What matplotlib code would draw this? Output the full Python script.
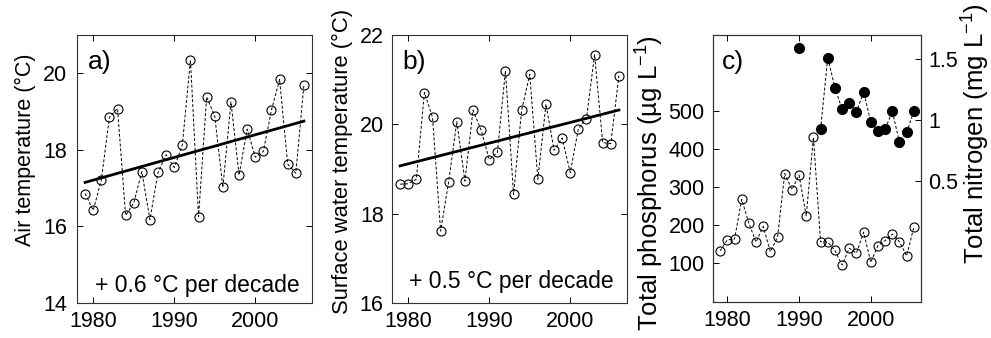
import numpy as np
import matplotlib
matplotlib.use("Agg")
import matplotlib.pyplot as plt

plt.rcParams['font.family'] = ['Liberation Sans', 'DejaVu Sans']
plt.rcParams['mathtext.fontset'] = 'custom'
plt.rcParams['mathtext.rm'] = 'Liberation Sans'
plt.rcParams['mathtext.it'] = 'Liberation Sans:italic'
plt.rcParams['mathtext.default'] = 'regular'

# --- Data ---
years = np.arange(1979, 2007)

air_temp = [16.86, 16.42, 17.21, 18.85, 19.08, 16.29, 16.61, 17.43, 16.18, 17.41,
            17.87, 17.54, 18.13, 20.35, 16.25, 19.38, 18.88, 17.02, 19.25, 17.34,
            18.54, 17.81, 17.96, 19.04, 19.84, 17.63, 17.39, 19.69]
air_trend_years = [1979, 2006]
air_trend = [17.15, 18.75]

water_temp = [18.66, 18.67, 18.77, 20.71, 20.16, 17.61, 18.72, 20.06, 18.73, 20.32,
              19.87, 19.21, 19.37, 21.20, 18.43, 20.32, 21.12, 18.77, 20.45, 19.42,
              19.69, 18.92, 19.90, 20.13, 21.56, 19.59, 19.57, 21.09]
water_trend_years = [1979, 2006]
water_trend = [19.07, 20.32]

phosphorus = [133, 162, 164, 268, 206, 156, 197, 131, 169, 336,
              294, 332, 225, 431, 157, 156, 134, 96, 140, 127,
              182, 103, 147, 160, 177, 157, 120, 195]

nitrogen = [np.nan] * 11 + [1.59, np.nan, np.nan, 0.926, 1.515, 1.265, 1.09, 1.142,
                            1.068, 1.233, 0.986, 0.91, 0.926, 1.074, 0.817, 0.899, 1.074]

W, H = 991, 338
fig = plt.figure(figsize=(W / 100, H / 100), dpi=100)

fs = 15.5
dash = dict(color='black', linestyle=(0, (3, 2)), linewidth=0.7)


def px_axes(l, r, t, b):
    return fig.add_axes([l / W, 1 - b / H, (r - l) / W, (b - t) / H])


def style(ax, pad):
    ax.tick_params(direction='in', length=4, width=0.7, labelsize=fs,
                   top=True, right=True, pad=pad)
    ax.tick_params(axis='x', pad=6)
    for s in ax.spines.values():
        s.set_linewidth(0.8)
        s.set_color('#333333')
    ax.set_xlim(1978, 2007)
    ax.set_xticks([1980, 1990, 2000])


# a) air temperature
ax1 = px_axes(77, 312, 35, 303)
ax1.plot(years, air_temp, marker='o', markersize=6.5, markerfacecolor='none',
         markeredgecolor='black', markeredgewidth=0.8, **dash)
ax1.plot(air_trend_years, air_trend, color='black', linewidth=2)
style(ax1, 7)
ax1.set_ylim(14, 21)
ax1.set_yticks([14, 16, 18, 20])
ax1.set_ylabel('Air temperature (°C)', fontsize=15.5, labelpad=5, y=0.571)
ax1.text(0.045, 0.945, 'a)', transform=ax1.transAxes, fontsize=19, va='top', ha='left')
ax1.text(0.51, 0.042, '+ 0.6 °C per decade', transform=ax1.transAxes,
         fontsize=16.5, ha='center', va='baseline')

# b) surface water temperature
ax2 = px_axes(392, 627, 35, 303)
ax2.plot(years, water_temp, marker='o', markersize=6.5, markerfacecolor='none',
         markeredgecolor='black', markeredgewidth=0.8, **dash)
ax2.plot(water_trend_years, water_trend, color='black', linewidth=2)
style(ax2, 6)
ax2.set_ylim(16, 22)
ax2.set_yticks([16, 18, 20, 22])
ax2.set_ylabel('Surface water temperature (°C)', fontsize=15.8, labelpad=5, y=0.53)
ax2.text(0.045, 0.945, 'b)', transform=ax2.transAxes, fontsize=19, va='top', ha='left')
ax2.text(0.507, 0.055, '+ 0.5 °C per decade', transform=ax2.transAxes,
         fontsize=16.5, ha='center', va='baseline')

# c) phosphorus and nitrogen
ax3 = px_axes(713, 921, 35, 301.5)
ax3.plot(years, phosphorus, marker='o', markersize=6.5, markerfacecolor='none',
         markeredgecolor='black', markeredgewidth=0.8, **dash)
style(ax3, 6)
ax3.set_ylim(0, 700)
ax3.set_yticks([100, 200, 300, 400, 500])
ax3.set_ylabel('Total phosphorus (µg L$^{-1}$)', fontsize=18.5, labelpad=2, y=0.445)
ax3.text(0.045, 0.945, 'c)', transform=ax3.transAxes, fontsize=19, va='top', ha='left')

ax4 = ax3.twinx()
ax4.plot(years, nitrogen, marker='o', markersize=7, markerfacecolor='black',
         markeredgecolor='black', **dash)
ax4.set_ylim(-0.49, 1.7)
ax4.set_yticks([0.5, 1, 1.5])
ax4.set_yticklabels(['0.5', '1', '1.5'])
ax4.tick_params(direction='in', length=4, width=0.7, labelsize=fs, pad=5)
ax4.set_ylabel('Total nitrogen (mg L$^{-1}$)', fontsize=18.5, labelpad=1, y=0.63)
for s in ax4.spines.values():
    s.set_linewidth(0.8)
    s.set_color('#333333')

fig.savefig('out.png', dpi=100)
